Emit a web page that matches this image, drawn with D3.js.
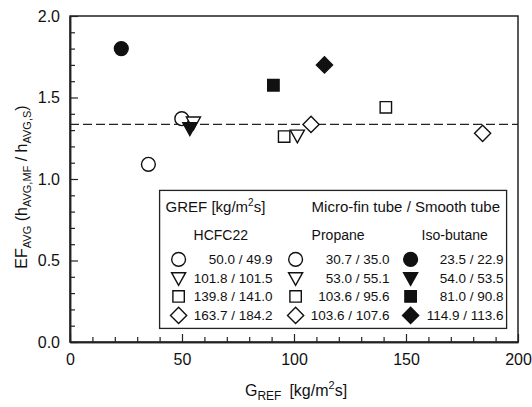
<!DOCTYPE html>
<html>
<head>
<meta charset="utf-8">
<script src="https://cdn.jsdelivr.net/npm/d3@7"></script>
<style>
  body { margin: 0; background: #fff; }
  text { font-family: "Liberation Sans", Arial, sans-serif; fill: #111; }
</style>
</head>
<body>
<div id="viz"></div>
<script>
// refrigerants, x = G_REF in smooth tube, y = EF_AVG
var refrigerants = ['HCFC22', 'Propane', 'Iso-butane'];
var shapes = ['circle', 'triangle', 'square', 'diamond'];

var hcfcG = [49.9, 101.5, 141.0, 184.2];
var hcfcEF = [1.37, 1.265, 1.44, 1.28];
var hcfcLabels = ['50.0 / 49.9', '101.8 / 101.5', '139.8 / 141.0', '163.7 / 184.2'];

var propG = [35.0, 55.1, 95.6, 107.6];
var propEF = [1.09, 1.345, 1.26, 1.335];
var propLabels = ['30.7 / 35.0', '53.0 / 55.1', '103.6 / 95.6', '103.6 / 107.6'];

var isoG = [22.9, 53.5, 90.8, 113.6];
var isoEF = [1.80, 1.31, 1.575, 1.70];
var isoLabels = ['23.5 / 22.9', '54.0 / 53.5', '81.0 / 90.8', '114.9 / 113.6'];

var meanEF = 1.335;
var xTicks = [0, 50, 100, 150, 200];
var yTicks = [0.0, 0.5, 1.0, 1.5, 2.0];

var svg = d3.select('#viz').append('svg')
  .attr('width', 532)
  .attr('height', 407);

var margin = {left: 70, top: 16, right: 14, bottom: 65};
var width = 532 - margin.left - margin.right;
var height = 407 - margin.top - margin.bottom;

var plot = svg.append('g')
  .attr('transform', 'translate(' + margin.left + ',' + margin.top + ')');

var x = d3.scaleLinear().domain([0, 200]).range([0, width]);
var y = d3.scaleLinear().domain([0, 2]).range([height, 0]);

// custom symbol shapes
var triDown = {
  draw: function (ctx, size) {
    var w = Math.sqrt(size) * 1.15, h = w * 0.9;
    ctx.moveTo(-w / 2, -h * 0.45);
    ctx.lineTo(w / 2, -h * 0.45);
    ctx.lineTo(0, h * 0.55);
    ctx.closePath();
  }
};
var diamond = {
  draw: function (ctx, size) {
    var r = Math.sqrt(size) * 0.62;
    ctx.moveTo(0, -r);
    ctx.lineTo(r, 0);
    ctx.lineTo(0, r);
    ctx.lineTo(-r, 0);
    ctx.closePath();
  }
};
function symbolPath(shape) {
  if (shape == 'circle') return d3.symbol(d3.symbolCircle, 150)();
  if (shape == 'square') return d3.symbol(d3.symbolSquare, 130)();
  if (shape == 'triangle') return d3.symbol(triDown, 150)();
  return d3.symbol(diamond, 170)();
}

// frame
plot.append('rect')
  .attr('width', width).attr('height', height)
  .attr('fill', 'none').attr('stroke', '#222').attr('stroke-width', 1.5);

// axes, ticks pointing in
var yAxis = plot.append('g')
  .call(d3.axisLeft(y).tickValues(yTicks).tickFormat(d3.format('.1f')).tickSizeInner(-8).tickSizeOuter(0).tickPadding(10));
plot.append('g')
  .call(d3.axisLeft(y).tickValues(d3.range(0.1, 2, 0.1).filter(function (d) { return Math.round(d * 10) % 5 != 0; }))
    .tickFormat('').tickSizeInner(-5).tickSizeOuter(0));

var xAxis = plot.append('g')
  .attr('transform', 'translate(0,' + height + ')')
  .call(d3.axisBottom(x).tickValues(xTicks).tickSizeInner(-8).tickSizeOuter(0).tickPadding(12));
plot.append('g')
  .attr('transform', 'translate(0,' + height + ')')
  .call(d3.axisBottom(x).tickValues(d3.range(10, 200, 10).filter(function (d) { return d % 50 != 0; }))
    .tickFormat('').tickSizeInner(-5).tickSizeOuter(0));

plot.selectAll('.domain').attr('stroke', '#222').attr('stroke-width', 1.5);
plot.selectAll('.tick line').attr('stroke', '#222').attr('stroke-width', 1.2);
plot.selectAll('.tick text').attr('font-size', 16).attr('font-family', '"Liberation Sans", Arial, sans-serif').attr('fill', '#111');

// mean line
plot.append('line')
  .attr('x1', x(0)).attr('x2', x(200))
  .attr('y1', y(meanEF)).attr('y2', y(meanEF))
  .attr('stroke', '#222').attr('stroke-width', 1.3)
  .attr('stroke-dasharray', '9,4');

// legend box
var legend = plot.append('g').attr('transform', 'translate(' + x(40) + ',' + y(0.93) + ')');
var lw = 347, lh = 138;
legend.append('rect')
  .attr('width', lw).attr('height', lh)
  .attr('fill', '#fff').attr('stroke', '#222').attr('stroke-width', 1.3);

var h1 = legend.append('text').attr('x', 6).attr('y', 22).attr('font-size', 15);
h1.append('tspan').text('GREF [kg/m');
h1.append('tspan').attr('font-size', 10).attr('dy', -6).text('2');
h1.append('tspan').attr('dy', 6).text('s]');
legend.append('text').attr('x', 152).attr('y', 22).attr('font-size', 15)
  .text('Micro-fin tube / Smooth tube');

var cols = [
  {name: refrigerants[0], g: hcfcG, ef: hcfcEF, labels: hcfcLabels, filled: false, sx: 19, nx: 34, vx: 113},
  {name: refrigerants[1], g: propG, ef: propEF, labels: propLabels, filled: false, sx: 136, nx: 152, vx: 230},
  {name: refrigerants[2], g: isoG, ef: isoEF, labels: isoLabels, filled: true, sx: 251, nx: 262, vx: 344}
];
var rowY = [69, 88, 106, 125];

cols.forEach(function (c) {
  legend.append('text').attr('x', c.nx).attr('y', 50).attr('font-size', 14).text(c.name);
  shapes.forEach(function (s, i) {
    legend.append('path')
      .attr('d', symbolPath(s))
      .attr('transform', 'translate(' + c.sx + ',' + rowY[i] + ')')
      .attr('fill', c.filled ? '#111' : '#fff')
      .attr('stroke', '#111').attr('stroke-width', 1.4);
    legend.append('text')
      .attr('x', c.vx).attr('y', rowY[i] + 5)
      .attr('text-anchor', 'end').attr('font-size', 13.5)
      .text(c.labels[i]);
  });
});

// data points
cols.forEach(function (c) {
  plot.selectAll(null)
    .data(shapes)
    .enter()
    .append('path')
    .attr('d', function (s) { return symbolPath(s); })
    .attr('transform', function (s, i) { return 'translate(' + x(c.g[i]) + ',' + y(c.ef[i]) + ')'; })
    .attr('fill', c.filled ? '#111' : '#fff')
    .attr('stroke', '#111').attr('stroke-width', 1.4);
});

// axis titles
var xt = svg.append('text')
  .attr('x', margin.left + width / 2 + 2).attr('y', 396)
  .attr('text-anchor', 'middle').attr('font-size', 16);
xt.append('tspan').text('G');
xt.append('tspan').attr('font-size', 12).attr('dy', 4).text('REF');
xt.append('tspan').attr('dy', -4).attr('dx', 8).text('[kg/m');
xt.append('tspan').attr('font-size', 11).attr('dy', -7).text('2');
xt.append('tspan').attr('dy', 7).text('s]');

var yt = svg.append('text')
  .attr('transform', 'translate(27,' + (margin.top + height / 2 + 8) + ') rotate(-90)')
  .attr('text-anchor', 'middle').attr('font-size', 16);
yt.append('tspan').text('EF');
yt.append('tspan').attr('font-size', 11).attr('dy', 4).text('AVG');
yt.append('tspan').attr('dy', -4).text(' (h');
yt.append('tspan').attr('font-size', 11).attr('dy', 4).text('AVG,MF');
yt.append('tspan').attr('dy', -4).text(' / h');
yt.append('tspan').attr('font-size', 11).attr('dy', 4).text('AVG,S');
yt.append('tspan').attr('dy', -4).text(')');
</script>
</body>
</html>
